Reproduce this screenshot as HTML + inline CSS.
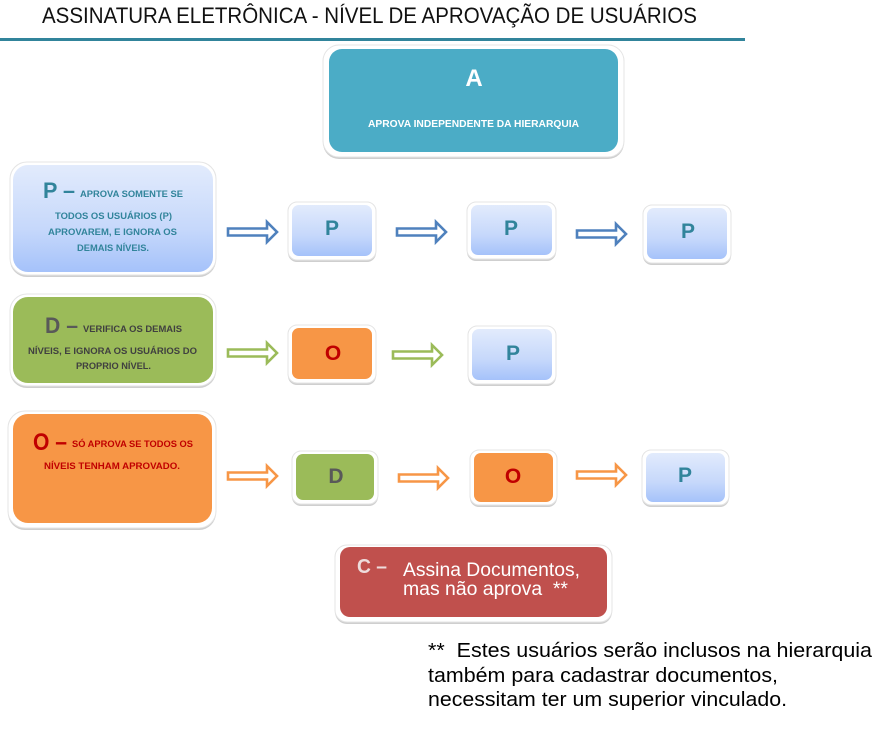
<!DOCTYPE html>
<html>
<head>
<meta charset="utf-8">
<style>
  html,body{margin:0;padding:0;background:#fff;}
  svg{display:block;}
  text{font-family:"Liberation Sans", Arial, sans-serif;}
</style>
</head>
<body>
<svg width="895" height="739" viewBox="0 0 895 739" xmlns="http://www.w3.org/2000/svg">
  <defs>
    <linearGradient id="gb" x1="0" y1="0" x2="0" y2="1">
      <stop offset="0" stop-color="#e2ebfc"/>
      <stop offset="0.6" stop-color="#c6d8fb"/>
      <stop offset="1" stop-color="#a5c2fa"/>
    </linearGradient>
  </defs>

  <!-- Title -->
  <text x="42" y="23" font-size="22" fill="#111" textLength="655" lengthAdjust="spacingAndGlyphs">ASSINATURA ELETRÔNICA - NÍVEL DE APROVAÇÃO DE USUÁRIOS</text>
  <rect x="0" y="38" width="745" height="3" fill="#31849b"/>

  <!-- A box -->
  <rect x="323" y="47" width="301" height="112" rx="16" fill="#cfcfcf"/>
  <rect x="323" y="45" width="301" height="112" rx="16" fill="#fff" stroke="#e4e4e4"/>
  <rect x="329" y="49" width="289" height="103" rx="13" fill="#4bacc6"/>
  <text x="474" y="86" font-size="24" font-weight="bold" fill="#fff" text-anchor="middle">A</text>
  <text x="368" y="127" font-size="10.5" font-weight="bold" fill="#fff" textLength="211" lengthAdjust="spacingAndGlyphs">APROVA INDEPENDENTE DA HIERARQUIA</text>

  <!-- P left box -->
  <rect x="10" y="164" width="206" height="113" rx="17" fill="#cfcfcf"/>
  <rect x="10" y="162" width="206" height="113" rx="17" fill="#fff" stroke="#e4e4e4"/>
  <rect x="13" y="165" width="200" height="107" rx="15" fill="url(#gb)"/>
  <text x="43" y="198" font-size="22" font-weight="bold" fill="#31849b" textLength="32" lengthAdjust="spacingAndGlyphs">P –</text>
  <text x="80" y="197" font-size="9" font-weight="bold" fill="#31849b" textLength="103" lengthAdjust="spacingAndGlyphs">APROVA SOMENTE SE</text>
  <text x="55" y="219" font-size="9" font-weight="bold" fill="#31849b" textLength="117" lengthAdjust="spacingAndGlyphs">TODOS OS USUÁRIOS (P)</text>
  <text x="48" y="235" font-size="9" font-weight="bold" fill="#31849b" textLength="129" lengthAdjust="spacingAndGlyphs">APROVAREM, E IGNORA OS</text>
  <text x="77" y="251" font-size="9" font-weight="bold" fill="#31849b" textLength="72" lengthAdjust="spacingAndGlyphs">DEMAIS NÍVEIS.</text>

  <!-- D left box -->
  <rect x="10" y="296" width="206" height="92" rx="17" fill="#cfcfcf"/>
  <rect x="10" y="294" width="206" height="92" rx="17" fill="#fff" stroke="#e4e4e4"/>
  <rect x="13" y="297" width="200" height="86" rx="15" fill="#9bbb59"/>
  <text x="45" y="333" font-size="22" font-weight="bold" fill="#595959" textLength="33" lengthAdjust="spacingAndGlyphs">D –</text>
  <text x="83" y="332" font-size="9" font-weight="bold" fill="#404040" textLength="99" lengthAdjust="spacingAndGlyphs">VERIFICA OS DEMAIS</text>
  <text x="28" y="354" font-size="9" font-weight="bold" fill="#404040" textLength="169" lengthAdjust="spacingAndGlyphs">NÍVEIS, E IGNORA OS USUÁRIOS DO</text>
  <text x="76" y="369" font-size="9" font-weight="bold" fill="#404040" textLength="75" lengthAdjust="spacingAndGlyphs">PROPRIO NÍVEL.</text>

  <!-- O left box -->
  <rect x="8" y="413" width="208" height="117" rx="17" fill="#cfcfcf"/>
  <rect x="8" y="411" width="208" height="117" rx="17" fill="#fff" stroke="#e4e4e4"/>
  <rect x="13" y="414" width="199" height="109" rx="15" fill="#f79646"/>
  <text x="33" y="450" font-size="24" font-weight="bold" fill="#c00000" textLength="34" lengthAdjust="spacingAndGlyphs">O –</text>
  <text x="72" y="447" font-size="9" font-weight="bold" fill="#c00000" textLength="121" lengthAdjust="spacingAndGlyphs">SÓ APROVA SE TODOS OS</text>
  <text x="44" y="469" font-size="9" font-weight="bold" fill="#c00000" textLength="136" lengthAdjust="spacingAndGlyphs">NÍVEIS TENHAM APROVADO.</text>

  <!-- Small boxes -->
  <!-- row 1 -->
  <rect x="288" y="204" width="88" height="58" rx="9" fill="#cfcfcf"/>
  <rect x="288" y="202" width="88" height="58" rx="9" fill="#fff" stroke="#e4e4e4"/>
  <rect x="292" y="205" width="80" height="51" rx="7" fill="url(#gb)"/>
  <text x="332" y="235" font-size="21" font-weight="bold" fill="#31849b" text-anchor="middle">P</text>

  <rect x="467" y="204" width="89" height="57" rx="9" fill="#cfcfcf"/>
  <rect x="467" y="202" width="89" height="57" rx="9" fill="#fff" stroke="#e4e4e4"/>
  <rect x="471" y="205" width="81" height="50" rx="7" fill="url(#gb)"/>
  <text x="511" y="235" font-size="21" font-weight="bold" fill="#31849b" text-anchor="middle">P</text>

  <rect x="643" y="207" width="88" height="58" rx="9" fill="#cfcfcf"/>
  <rect x="643" y="205" width="88" height="58" rx="9" fill="#fff" stroke="#e4e4e4"/>
  <rect x="647" y="208" width="80" height="51" rx="7" fill="url(#gb)"/>
  <text x="688" y="238" font-size="21" font-weight="bold" fill="#31849b" text-anchor="middle">P</text>

  <!-- row 2 -->
  <rect x="288" y="327" width="88" height="58" rx="9" fill="#cfcfcf"/>
  <rect x="288" y="325" width="88" height="58" rx="9" fill="#fff" stroke="#e4e4e4"/>
  <rect x="292" y="328" width="80" height="51" rx="7" fill="#f79646"/>
  <text x="333" y="360" font-size="21" font-weight="bold" fill="#c00000" text-anchor="middle">O</text>

  <rect x="468" y="328" width="88" height="58" rx="9" fill="#cfcfcf"/>
  <rect x="468" y="326" width="88" height="58" rx="9" fill="#fff" stroke="#e4e4e4"/>
  <rect x="472" y="329" width="80" height="51" rx="7" fill="url(#gb)"/>
  <text x="513" y="360" font-size="21" font-weight="bold" fill="#31849b" text-anchor="middle">P</text>

  <!-- row 3 -->
  <rect x="292" y="453" width="86" height="53" rx="9" fill="#cfcfcf"/>
  <rect x="292" y="451" width="86" height="53" rx="9" fill="#fff" stroke="#e4e4e4"/>
  <rect x="296" y="454" width="78" height="46" rx="7" fill="#9bbb59"/>
  <text x="336" y="483" font-size="21" font-weight="bold" fill="#595959" text-anchor="middle">D</text>

  <rect x="470" y="452" width="87" height="55" rx="9" fill="#cfcfcf"/>
  <rect x="470" y="450" width="87" height="55" rx="9" fill="#fff" stroke="#e4e4e4"/>
  <rect x="474" y="453" width="79" height="49" rx="7" fill="#f79646"/>
  <text x="513" y="483" font-size="21" font-weight="bold" fill="#c00000" text-anchor="middle">O</text>

  <rect x="642" y="452" width="87" height="55" rx="9" fill="#cfcfcf"/>
  <rect x="642" y="450" width="87" height="55" rx="9" fill="#fff" stroke="#e4e4e4"/>
  <rect x="646" y="453" width="79" height="49" rx="7" fill="url(#gb)"/>
  <text x="685" y="482" font-size="21" font-weight="bold" fill="#31849b" text-anchor="middle">P</text>

  <!-- Arrows -->
  <g fill="#fff" stroke-width="2.6" stroke-linejoin="miter">
    <polygon stroke="#4f81bd" transform="translate(228,232)" points="0,-3.5 39,-3.5 39,-10 49,0 39,10 39,3.5 0,3.5"/>
    <polygon stroke="#4f81bd" transform="translate(397,232)" points="0,-3.5 39,-3.5 39,-10 49,0 39,10 39,3.5 0,3.5"/>
    <polygon stroke="#4f81bd" transform="translate(577,234)" points="0,-3.5 39,-3.5 39,-10 49,0 39,10 39,3.5 0,3.5"/>
    <polygon stroke="#9bbb59" transform="translate(228,353)" points="0,-3.5 39,-3.5 39,-10 49,0 39,10 39,3.5 0,3.5"/>
    <polygon stroke="#9bbb59" transform="translate(393,355)" points="0,-3.5 39,-3.5 39,-10 49,0 39,10 39,3.5 0,3.5"/>
    <polygon stroke="#f79646" transform="translate(228,476)" points="0,-3.5 39,-3.5 39,-10 49,0 39,10 39,3.5 0,3.5"/>
    <polygon stroke="#f79646" transform="translate(399,478)" points="0,-3.5 39,-3.5 39,-10 49,0 39,10 39,3.5 0,3.5"/>
    <polygon stroke="#f79646" transform="translate(577,475)" points="0,-3.5 39,-3.5 39,-10 49,0 39,10 39,3.5 0,3.5"/>
  </g>

  <!-- C box -->
  <rect x="335" y="547" width="277" height="77" rx="12" fill="#cfcfcf"/>
  <rect x="335" y="545" width="277" height="77" rx="12" fill="#fff" stroke="#e4e4e4"/>
  <rect x="340" y="547" width="267" height="70" rx="10" fill="#c0504d"/>
  <text x="357" y="573" font-size="20" font-weight="bold" fill="#eedcdc" textLength="30" lengthAdjust="spacingAndGlyphs">C –</text>
  <text x="403" y="576" font-size="19.3" fill="#fff" textLength="177" lengthAdjust="spacingAndGlyphs">Assina Documentos,</text>
  <text x="403" y="595" font-size="19.3" fill="#fff" xml:space="preserve" textLength="165" lengthAdjust="spacingAndGlyphs">mas não aprova  **</text>

  <!-- Footnote -->
  <text x="428" y="657" font-size="20" fill="#000" xml:space="preserve" textLength="444" lengthAdjust="spacingAndGlyphs">**  Estes usuários serão inclusos na hierarquia</text>
  <text x="428" y="682" font-size="20" fill="#000" textLength="350" lengthAdjust="spacingAndGlyphs">também para cadastrar documentos,</text>
  <text x="428" y="706" font-size="20" fill="#000" textLength="359" lengthAdjust="spacingAndGlyphs">necessitam ter um superior vinculado.</text>
</svg>
</body>
</html>
